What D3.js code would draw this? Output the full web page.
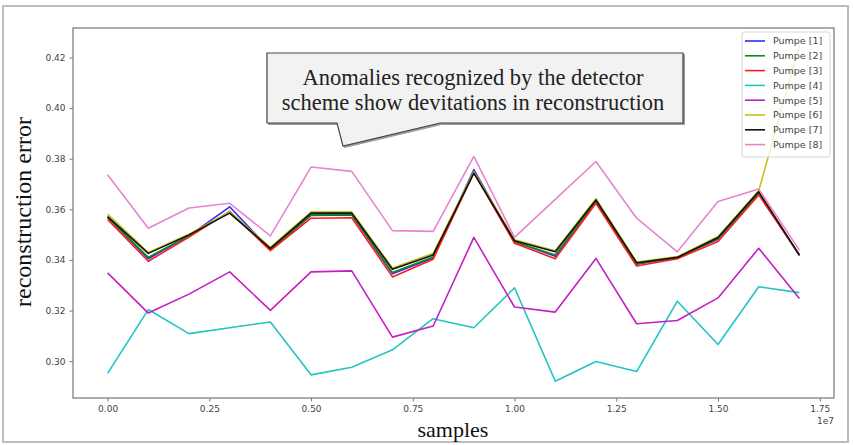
<!DOCTYPE html>
<html>
<head>
<meta charset="utf-8">
<script src="https://cdn.jsdelivr.net/npm/d3@7"></script>
<style>
  body { margin: 0; background: #fff; }
  svg { display: block; }
</style>
</head>
<body>
<div id="chart"></div>
<script>
// sample index (x values, 1e7 scale on axis)
var samples = [0, 1000000, 2000000, 3000000, 4000000, 5000000, 6000000, 7000000, 8000000,
               9000000, 10000000, 11000000, 12000000, 13000000, 14000000, 15000000, 16000000, 17000000];

var pumpe1 = [0.3568, 0.3405, 0.3495, 0.3610, 0.3440, 0.3576, 0.3578, 0.3345, 0.3408, 0.3757, 0.3472, 0.3415, 0.3632, 0.3383, 0.3410, 0.3482, 0.3665, 0.3418];
var pumpe2 = [0.3570, 0.3410, 0.3497, 0.3590, 0.3442, 0.3578, 0.3580, 0.3350, 0.3412, 0.3748, 0.3472, 0.3420, 0.3632, 0.3385, 0.3410, 0.3485, 0.3665, 0.3418];
var pumpe3 = [0.3560, 0.3395, 0.3490, 0.3592, 0.3437, 0.3565, 0.3567, 0.3333, 0.3403, 0.3745, 0.3466, 0.3405, 0.3624, 0.3376, 0.3405, 0.3473, 0.3657, 0.3420];
var pumpe4 = [0.2952, 0.3204, 0.3109, 0.3132, 0.3155, 0.2946, 0.2976, 0.3045, 0.3168, 0.3132, 0.3290, 0.2921, 0.2999, 0.2959, 0.3237, 0.3066, 0.3294, 0.3271];
var pumpe5 = [0.3349, 0.3190, 0.3265, 0.3353, 0.3201, 0.3353, 0.3357, 0.3095, 0.3139, 0.3489, 0.3214, 0.3194, 0.3406, 0.3148, 0.3161, 0.3250, 0.3446, 0.3248];
var pumpe6 = [0.3581, 0.3430, 0.3502, 0.3590, 0.3450, 0.3590, 0.3590, 0.3368, 0.3426, 0.3748, 0.3480, 0.3436, 0.3642, 0.3392, 0.3413, 0.3493, 0.3673, 0.4250];
var pumpe7 = [0.3571, 0.3426, 0.3499, 0.3585, 0.3446, 0.3585, 0.3585, 0.3363, 0.3420, 0.3743, 0.3476, 0.3432, 0.3637, 0.3389, 0.3410, 0.3489, 0.3670, 0.3419];
var pumpe8 = [0.3737, 0.3525, 0.3605, 0.3624, 0.3495, 0.3767, 0.3750, 0.3516, 0.3513, 0.3809, 0.3489, 0.3639, 0.3789, 0.3565, 0.3432, 0.3631, 0.3680, 0.3439];

var seriesNames = ["Pumpe [1]", "Pumpe [2]", "Pumpe [3]", "Pumpe [4]", "Pumpe [5]", "Pumpe [6]", "Pumpe [7]", "Pumpe [8]"];
var seriesValues = [pumpe1, pumpe2, pumpe3, pumpe4, pumpe5, pumpe6, pumpe7, pumpe8];
var seriesColors = ["#2b2bff", "#138a13", "#ff1a1a", "#22c4c4", "#c41fc4", "#c4c41a", "#111111", "#e884cf"];

var xTicks = [0, 2500000, 5000000, 7500000, 10000000, 12500000, 15000000, 17500000];
var yTicks = [0.30, 0.32, 0.34, 0.36, 0.38, 0.40, 0.42];

var calloutLines = ["Anomalies recognized by the detector", "scheme show devitations in reconstruction"];

var width = 853, height = 445;
var margin = { left: 73, right: 19, top: 28, bottom: 47 };

var svg = d3.select("#chart").append("svg").attr("width", width).attr("height", height);
svg.append("rect").attr("width", width).attr("height", height).attr("fill", "#fff");

// outer frame of the figure
svg.append("rect").attr("x", 3).attr("y", 6).attr("width", 845).attr("height", 436)
    .attr("fill", "none").attr("stroke", "#bdbdbd").attr("stroke-width", 2);

// matplotlib style 5% margins
var xMin = d3.min(samples), xMax = d3.max(samples);
var xPad = (xMax - xMin) * 0.05;
var allVals = d3.merge(seriesValues);
var yMin = d3.min(allVals), yMax = d3.max(allVals);
var yPad = (yMax - yMin) * 0.05;

var x = d3.scaleLinear().domain([xMin - xPad, xMax + xPad]).range([margin.left, width - margin.right]);
var y = d3.scaleLinear().domain([yMin - yPad, yMax + yPad]).range([height - margin.bottom, margin.top]);

var line = d3.line()
    .x(function(d, i) { return x(samples[i]); })
    .y(function(d) { return y(d); });

var lineGroup = svg.append("g");
seriesValues.forEach(function(vals, i) {
    lineGroup.append("path").attr("d", line(vals)).attr("fill", "none")
        .attr("stroke", seriesColors[i]).attr("stroke-width", 1.6).attr("stroke-linejoin", "round");
});

// axes
var xAxis = d3.axisBottom(x).tickValues(xTicks).tickSize(3.5).tickPadding(4)
    .tickFormat(function(d) { return (d / 1e7).toFixed(2); });
var yAxis = d3.axisLeft(y).tickValues(yTicks).tickSize(3.5).tickPadding(4)
    .tickFormat(d3.format(".2f"));

var gx = svg.append("g").attr("transform", "translate(0," + (height - margin.bottom) + ")").call(xAxis);
var gy = svg.append("g").attr("transform", "translate(" + margin.left + ",0)").call(yAxis);
[gx, gy].forEach(function(g) {
    g.select(".domain").remove();
    g.selectAll(".tick line").attr("stroke", "#777");
    g.selectAll(".tick text").attr("fill", "#444").attr("font-family", "DejaVu Sans").attr("font-size", 9);
});

// spines
svg.append("rect").attr("x", margin.left).attr("y", margin.top)
    .attr("width", width - margin.left - margin.right).attr("height", height - margin.top - margin.bottom)
    .attr("fill", "none").attr("stroke", "#808080").attr("stroke-width", 1.3);

// offset text
svg.append("text").attr("x", width - margin.right).attr("y", 424).attr("text-anchor", "end")
    .attr("font-family", "DejaVu Sans").attr("font-size", 9).attr("fill", "#444").text("1e7");

// axis labels
svg.append("text").attr("x", 453).attr("y", 437).attr("text-anchor", "middle")
    .attr("font-family", "Liberation Serif").attr("font-size", 22).attr("fill", "#111").text("samples");
svg.append("text").attr("transform", "translate(31,212) rotate(-90)").attr("text-anchor", "middle")
    .attr("font-family", "Liberation Serif").attr("font-size", 24).attr("fill", "#111").text("reconstruction error");

// legend
var legend = svg.append("g").attr("transform", "translate(742,32)");
legend.append("rect").attr("width", 88).attr("height", 125).attr("rx", 2)
    .attr("fill", "#fff").attr("fill-opacity", 0.8).attr("stroke", "#d6d6d6");
seriesNames.forEach(function(name, i) {
    var ly = 9 + i * 14.8;
    legend.append("line").attr("x1", 3).attr("x2", 23).attr("y1", ly).attr("y2", ly)
        .attr("stroke", seriesColors[i]).attr("stroke-width", 1.6);
    legend.append("text").attr("x", 31).attr("y", ly).attr("dy", "0.35em")
        .attr("font-family", "DejaVu Sans").attr("font-size", 9.5).attr("fill", "#444").text(name);
});

// callout
var box = { x0: 267, y0: 53, x1: 683, y1: 123 };
var tail = [[337, 123], [343, 146], [440, 123]];
function calloutPath(dx, dy) {
    var p = d3.path();
    p.moveTo(box.x0 + dx, box.y0 + dy);
    p.lineTo(box.x1 + dx, box.y0 + dy);
    p.lineTo(box.x1 + dx, box.y1 + dy);
    p.lineTo(tail[2][0] + dx, tail[2][1] + dy);
    p.lineTo(tail[1][0] + dx, tail[1][1] + dy);
    p.lineTo(tail[0][0] + dx, tail[0][1] + dy);
    p.lineTo(box.x0 + dx, box.y1 + dy);
    p.closePath();
    return p.toString();
}
svg.append("path").attr("d", calloutPath(1.5, 1.5)).attr("fill", "#9a9a9a").attr("stroke", "#9a9a9a");
svg.append("path").attr("d", calloutPath(0, 0)).attr("fill", "#f2f2f2").attr("stroke", "#444").attr("stroke-width", 1.2);
calloutLines.forEach(function(t, i) {
    svg.append("text").attr("x", (box.x0 + box.x1) / 2 - 2).attr("y", 85 + i * 25).attr("text-anchor", "middle")
        .attr("font-family", "Liberation Serif").attr("font-size", 22.5).attr("fill", "#222").text(t);
});
</script>
</body>
</html>
